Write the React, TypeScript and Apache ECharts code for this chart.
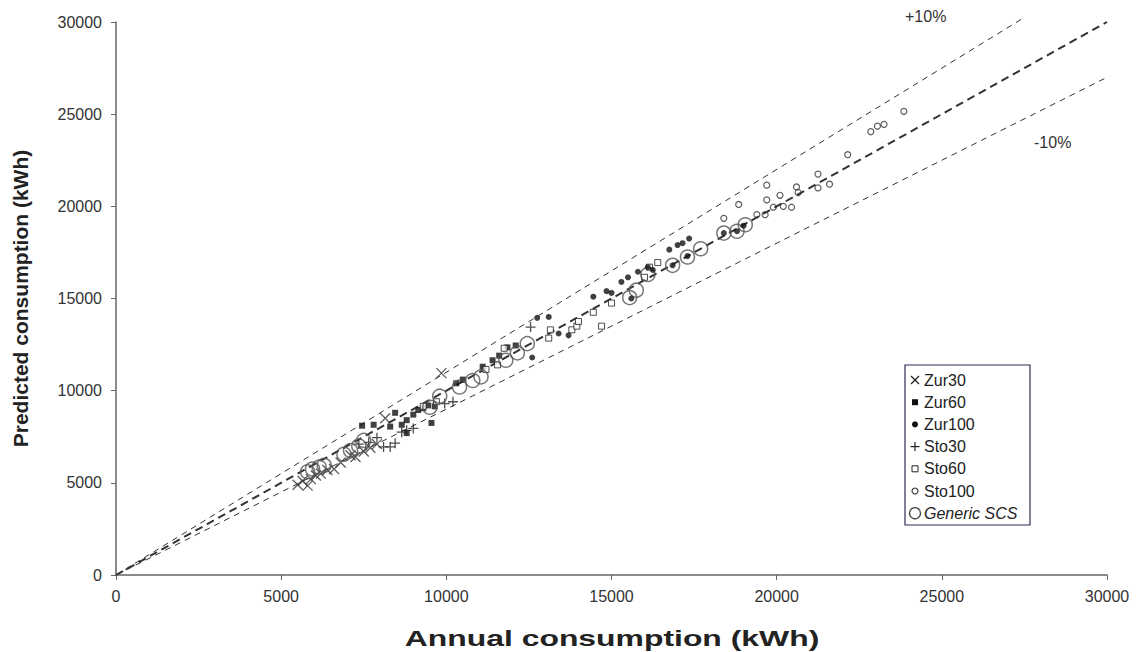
import React, { useEffect, useRef } from "react";
import * as echarts from "echarts";

const zur30: number[][] = [
  [5500, 4900], [5650, 5100], [5800, 4850], [5900, 5200], [6050, 5400], [6200, 5500],
  [6400, 5700], [6600, 5750], [6800, 6100], [7100, 6500], [7250, 6400], [7500, 6700],
  [7700, 6900], [7900, 7100], [8150, 8500], [9850, 10950],
];
const zur60: number[][] = [
  [7450, 8100], [7800, 8150], [8300, 8050], [8450, 8800], [8650, 8150], [8800, 8400],
  [8800, 7700], [9000, 8700], [9150, 8950], [9300, 9050], [9450, 9200], [9550, 8250],
  [9650, 9150], [10300, 10400], [10500, 10600], [11100, 11300], [11400, 11650],
  [11600, 11900], [11850, 12350], [12100, 12450],
];
const zur100: number[][] = [
  [12600, 11800], [12750, 13950], [13100, 14000], [13400, 13100], [13700, 13000],
  [14450, 15100], [14850, 15400], [15000, 15300], [15300, 15900], [15500, 16150],
  [15800, 16450], [16100, 16700], [16250, 16550], [16750, 17650], [17000, 17900],
  [17150, 18000], [17350, 18250], [15600, 15000], [16850, 16800], [17300, 17300],
  [18400, 18550], [18800, 18650], [19000, 18950],
];
const sto30: number[][] = [
  [7350, 7100], [7650, 7200], [7900, 7450], [8100, 6950], [8300, 6950], [8450, 7150],
  [8650, 7750], [8800, 7850], [9000, 7950], [9950, 9300], [10200, 9400], [12550, 13450],
];
const sto60: number[][] = [
  [9300, 9150], [9700, 9400], [11200, 11150], [11550, 11400], [11750, 12300],
  [13100, 12850], [13150, 13300], [13800, 13300], [13950, 13500], [14000, 13750],
  [14450, 14250], [14700, 13500], [15000, 14750], [16000, 16150], [16150, 16700],
  [16400, 16950],
];
const sto100: number[][] = [
  [18400, 19350], [18850, 20100], [19700, 21150], [19700, 20350], [19400, 19550],
  [19650, 19550], [19900, 19950], [20100, 20600], [20200, 20000], [20450, 19950],
  [20600, 21050], [20650, 20750], [21250, 21750], [21250, 21000], [21600, 21200],
  [22150, 22800], [22850, 24050], [23050, 24350], [23250, 24450], [23850, 25150],
];
const generic: number[][] = [
  [5800, 5600], [5950, 5750], [6150, 5850], [6300, 5950], [6900, 6550], [7100, 6750],
  [7350, 7000], [7500, 7300], [9500, 9100], [9800, 9700], [10400, 10200], [10800, 10550],
  [11050, 10750], [11800, 11650], [12150, 12050], [12450, 12550], [15550, 15050],
  [15750, 15450], [16100, 16300], [16850, 16800], [17300, 17250], [17700, 17700],
  [18400, 18550], [18800, 18650], [19050, 19000],
];

const lineEqual: number[][] = [[0, 0], [30000, 30000]];
const linePlus10: number[][] = [[0, 0], [27500, 30250]];
const lineMinus10: number[][] = [[0, 0], [30000, 27000]];

const legendNames = ["Zur30", "Zur60", "Zur100", "Sto30", "Sto60", "Sto100", "Generic SCS"];
const xTitle = "Annual consumption (kWh)";
const yTitle = "Predicted consumption (kWh)";

const FONT = "Liberation Sans, Arial, sans-serif";
const CROSS = "path://M0,0L10,10M10,0L0,10";
const PLUS = "path://M5,0L5,10M0,5L10,5";

function legendIcon(i: number, cx: number, cy: number): any[] {
  const s = { stroke: "#222", lineWidth: 1.2, fill: "none" };
  switch (i) {
    case 0:
      return [
        { type: "line", shape: { x1: cx - 4, y1: cy - 4, x2: cx + 4, y2: cy + 4 }, style: s },
        { type: "line", shape: { x1: cx + 4, y1: cy - 4, x2: cx - 4, y2: cy + 4 }, style: s },
      ];
    case 1:
      return [{ type: "rect", shape: { x: cx - 3, y: cy - 3, width: 6, height: 6 }, style: { fill: "#111" } }];
    case 2:
      return [{ type: "circle", shape: { cx, cy, r: 3 }, style: { fill: "#111" } }];
    case 3:
      return [
        { type: "line", shape: { x1: cx - 4.5, y1: cy, x2: cx + 4.5, y2: cy }, style: s },
        { type: "line", shape: { x1: cx, y1: cy - 4.5, x2: cx, y2: cy + 4.5 }, style: s },
      ];
    case 4:
      return [{ type: "rect", shape: { x: cx - 3, y: cy - 3, width: 6, height: 6 }, style: { fill: "#fff", stroke: "#222", lineWidth: 1 } }];
    case 5:
      return [{ type: "circle", shape: { cx, cy, r: 3 }, style: { fill: "#fff", stroke: "#333", lineWidth: 1.1 } }];
    default:
      return [{ type: "circle", shape: { cx, cy, r: 5.5 }, style: { fill: "#fff", stroke: "#444", lineWidth: 1.3 } }];
  }
}

export default function App() {
  const ref = useRef<HTMLDivElement>(null);
  useEffect(() => {
    document.body.style.margin = "0";
    if (!ref.current) return;
    const chart = echarts.init(ref.current, null, { renderer: "svg" });
    const refLine = (name: string, data: number[][], width: number, dash: number[]) => ({
      name,
      type: "line",
      data,
      symbol: "none",
      clip: false,
      silent: true,
      z: 1,
      lineStyle: { color: "#333", width, type: dash },
    });

    const legendX = 905;
    const legendY = 365;
    const rowH = 22.2;
    const legendChildren: any[] = [
      {
        type: "rect",
        shape: { x: legendX, y: legendY, width: 125, height: 160 },
        style: { fill: "#fff", stroke: "#2d2d55", lineWidth: 1.2 },
      },
    ];
    legendNames.forEach((n, i) => {
      const cy = legendY + 15 + i * rowH;
      legendChildren.push(...legendIcon(i, legendX + 10, cy));
      legendChildren.push({
        type: "text",
        x: legendX + 19,
        y: cy,
        style: {
          text: n,
          fontFamily: FONT,
          fontSize: 16,
          fontStyle: i === 6 ? "italic" : "normal",
          fill: "#222",
          verticalAlign: "middle",
          align: "left",
        },
      });
    });

    const option: any = {
      animation: false,
      backgroundColor: "#fff",
      textStyle: { fontFamily: FONT },
      grid: { left: 116, right: 29, top: 22, bottom: 77 },
      xAxis: {
        type: "value",
        min: 0,
        max: 30000,
        interval: 5000,
        axisLine: { lineStyle: { color: "#666", width: 1.5 } },
        axisTick: { show: true, length: 5, inside: false, lineStyle: { color: "#666" } },
        axisLabel: { fontFamily: FONT, fontSize: 16, color: "#333", margin: 13, formatter: (v: number) => String(v) },
        splitLine: { show: false },
      },
      yAxis: {
        type: "value",
        min: 0,
        max: 30000,
        interval: 5000,
        name: yTitle,
        nameLocation: "middle",
        nameGap: 85,
        nameTextStyle: { fontFamily: FONT, fontSize: 21, fontWeight: "bold", color: "#222" },
        axisLine: { show: true, lineStyle: { color: "#666", width: 1.5 } },
        axisTick: { show: true, length: 5, inside: false, lineStyle: { color: "#666" } },
        axisLabel: { fontFamily: FONT, fontSize: 16, color: "#333", margin: 14, formatter: (v: number) => String(v) },
        splitLine: { show: false },
      },
      graphic: [
        {
          type: "text",
          x: 612,
          y: 638,
          scaleX: 1.45,
          style: {
            text: xTitle,
            fontFamily: FONT,
            fontSize: 22,
            fontWeight: "bold",
            fill: "#222",
            align: "center",
            verticalAlign: "middle",
          },
        },
        { type: "text", left: 905, top: 8, style: { text: "+10%", fontFamily: FONT, fontSize: 16, fill: "#333" } },
        { type: "text", left: 1034, top: 134, style: { text: "-10%", fontFamily: FONT, fontSize: 16, fill: "#333" } },
        { type: "group", children: legendChildren, z: 100 },
      ],
      series: [
        refLine("eq", lineEqual, 2, [8, 5]),
        refLine("p10", linePlus10, 1, [6, 5]),
        refLine("m10", lineMinus10, 1, [6, 5]),
        {
          name: "Zur30", type: "scatter", data: zur30, symbol: CROSS, symbolSize: 10, z: 3,
          itemStyle: { color: "rgba(0,0,0,0)", borderColor: "#333", borderWidth: 1.3 },
        },
        {
          name: "Zur60", type: "scatter", data: zur60, symbol: "rect", symbolSize: 6, z: 3,
          itemStyle: { color: "#111" },
        },
        {
          name: "Zur100", type: "scatter", data: zur100, symbol: "circle", symbolSize: 6, z: 4,
          itemStyle: { color: "#111" },
        },
        {
          name: "Sto30", type: "scatter", data: sto30, symbol: PLUS, symbolSize: 10, z: 3,
          itemStyle: { color: "rgba(0,0,0,0)", borderColor: "#222", borderWidth: 1.3 },
        },
        {
          name: "Sto60", type: "scatter", data: sto60, symbol: "rect", symbolSize: 6, z: 3,
          itemStyle: { color: "#fff", borderColor: "#222", borderWidth: 1 },
        },
        {
          name: "Sto100", type: "scatter", data: sto100, symbol: "circle", symbolSize: 6, z: 3,
          itemStyle: { color: "rgba(255,255,255,0)", borderColor: "#333", borderWidth: 1.2 },
        },
        {
          name: "Generic SCS", type: "scatter", data: generic, symbol: "circle", symbolSize: 14, z: 3,
          itemStyle: { color: "rgba(255,255,255,0)", borderColor: "#555", borderWidth: 1.5 },
        },
      ],
    };
    chart.setOption(option);
    return () => chart.dispose();
  }, []);
  return <div ref={ref} style={{ width: 1136, height: 652 }} />;
}
